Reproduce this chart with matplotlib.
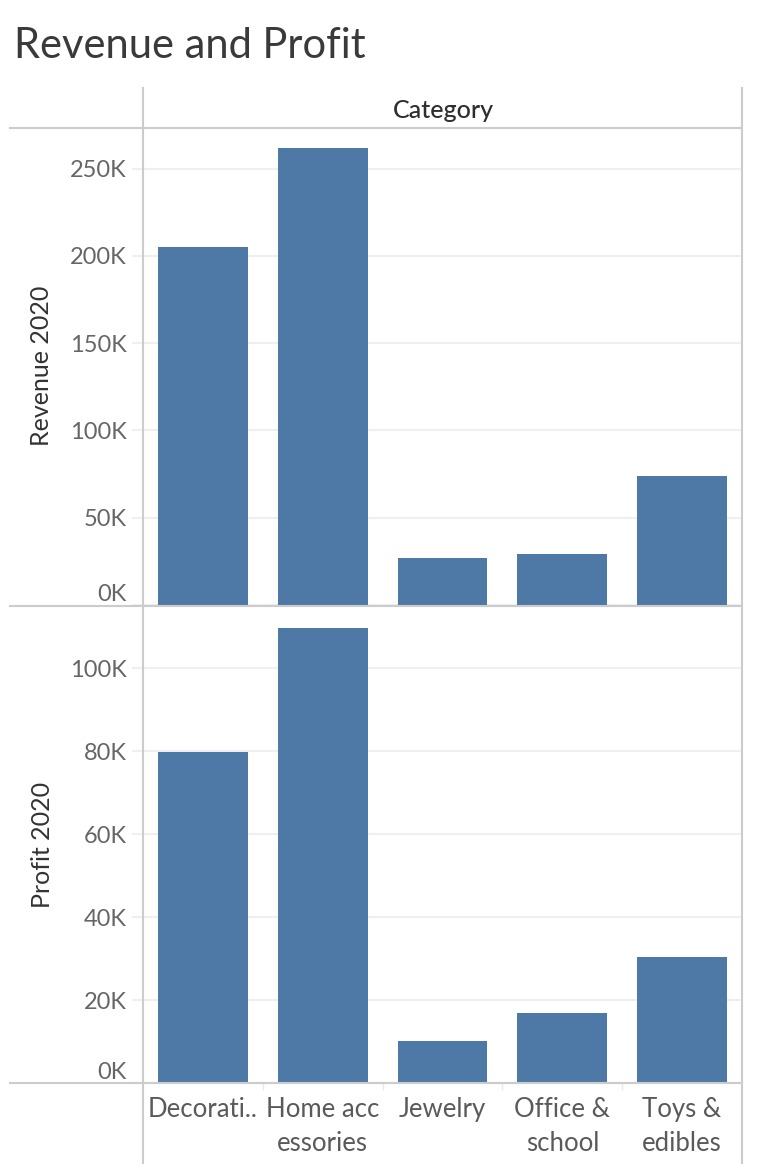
import matplotlib.pyplot as plt
from matplotlib.lines import Line2D

categories = ["Decorati..", "Home acc\nessories", "Jewelry", "Office &\nschool", "Toys &\nedibles"]
revenue = [205.2, 261.5, 26.9, 29.2, 73.9]   # in K
profit = [79.9, 109.7, 10.2, 16.8, 30.3]     # in K
rev_ticks = [0, 50, 100, 150, 200, 250]
prof_ticks = [0, 20, 40, 60, 80, 100]

W, H = 758, 1176
bar_color = "#4e79a7"
line_color = "#cccccc"
grid_color = "#efefef"
plt.rcParams["font.family"] = ["Lato", "DejaVu Sans"]

fig = plt.figure(figsize=(W / 100, H / 100), dpi=100)

def px_axes(x0, y0, x1, y1):
    return fig.add_axes([x0 / W, 1 - y1 / H, (x1 - x0) / W, (y1 - y0) / H])

ax1 = px_axes(143, 128, 742, 605)
ax2 = px_axes(143, 606, 742, 1083)

x = range(len(categories))
for ax, vals, ticks, top in [(ax1, revenue, rev_ticks, 273.2), (ax2, profit, prof_ticks, 115.0)]:
    ax.bar(x, vals, width=0.75, color=bar_color, zorder=2)
    ax.set_xlim(-0.5, len(categories) - 0.5)
    ax.set_ylim(0, top)
    ax.set_yticks(ticks, [f"{t}K" for t in ticks])
    ax.grid(axis="y", color=grid_color, lw=1.5, zorder=0)
    ax.tick_params(axis="y", length=8, width=1.5, color=grid_color, pad=3.5,
                   labelsize=17, labelcolor="#666666")
    for s in ax.spines.values():
        s.set_visible(False)
    ax.get_yticklabels()[0].set_va("bottom")

ax1.set_xticks([])
ax2.set_xticks(list(x), categories)
ax2.tick_params(axis="x", length=0, pad=10, labelsize=18.5, labelcolor="#5a5a5a")
for lbl in ax2.get_xticklabels():
    lbl.set_linespacing(1.45)
ax2.set_xticks([0.5, 1.5, 2.5, 3.5], minor=True)
ax2.tick_params(axis="x", which="minor", length=5, width=1, color="#e8e8e8")

# frame lines
def hline(y, x0, x1, lw=1.5):
    fig.add_artist(Line2D([x0 / W, x1 / W], [1 - y / H, 1 - y / H], color=line_color, lw=lw))

def vline(x0, y0, y1, lw=1.5):
    fig.add_artist(Line2D([x0 / W, x0 / W], [1 - y0 / H, 1 - y1 / H], color=line_color, lw=lw))

hline(128, 10, 742)
hline(606, 10, 742)
hline(1083, 10, 742)
vline(143, 88, 1163)
vline(742, 88, 1163)

fig.text(14 / W, 1 - 58 / H, "Revenue and Profit", fontsize=30, color="#3a3a3a",
         va="baseline", ha="left")
fig.text(443 / W, 1 - 110 / H, "Category", fontsize=18, color="#2e2e2e",
         va="center", ha="center", fontweight="medium")
fig.text(42 / W, 1 - 366 / H, "Revenue 2020", fontsize=18, color="#333333",
         rotation=90, va="center", ha="center")
fig.text(42 / W, 1 - 845 / H, "Profit 2020", fontsize=18, color="#333333",
         rotation=90, va="center", ha="center")

fig.savefig("out.png", dpi=100, facecolor="white")
